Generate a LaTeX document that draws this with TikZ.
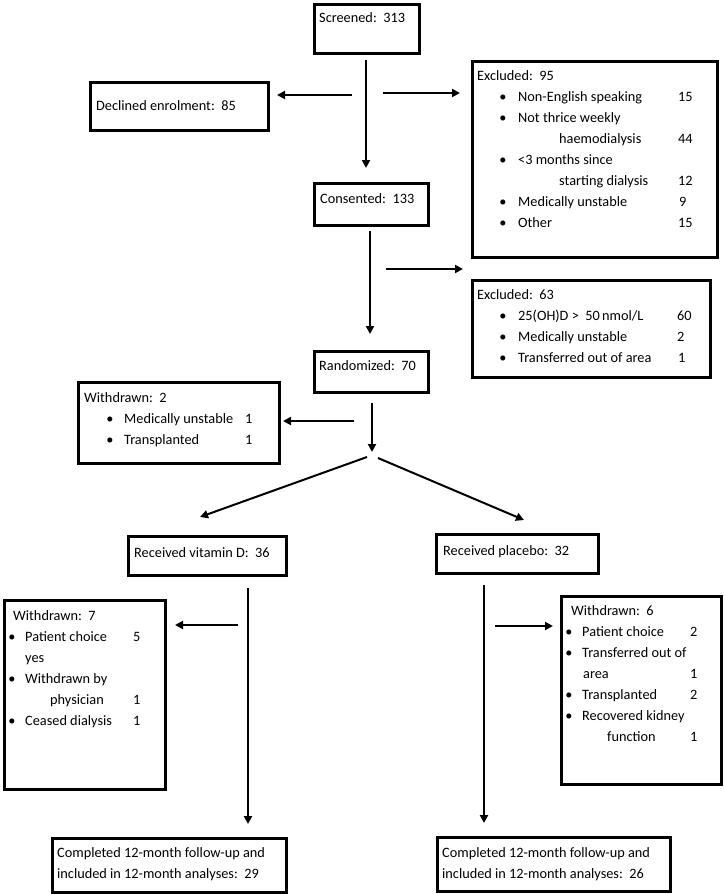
\documentclass[tikz,border=0pt]{standalone}
\usepackage{fontspec}
\setmainfont{Carlito}
\usetikzlibrary{arrows.meta}
\newcommand{\bx}[5]{\node[box, anchor=north west, minimum width=#4pt, minimum height=#5pt] (#1) at (#2,#3) {};}
\newcommand{\itemrow}[7]{%
  \node[bul] (#1b) at (#3,#2) {\textbullet};
  \node[txt] (#1t) at (#4,#2) {#5};
  \node[txt] (#1n) at (#6,#2) {#7};}
\begin{document}
\begin{tikzpicture}[x=1pt,y={(0pt,-1pt)},
  box/.style={draw=black, line width=2.6pt, inner sep=0pt, fill=none},
  txt/.style={inner sep=0pt, anchor=base west, font=\fontsize{14.3}{21}\selectfont},
  bul/.style={inner sep=0pt, anchor=base, font=\fontsize{14.3}{21}\selectfont},
  arr/.style={line width=2pt, -{Triangle[length=8pt,width=8pt]}},
  ln/.style={line width=2pt}]
\useasboundingbox (0,0) rectangle (724,894);
\fill[white] (0,0) rectangle (724,894);
% boxes
\bx{scr}{313}{3}{105}{49}
\bx{dec}{89}{81}{178}{48}
\bx{con}{313}{182}{114}{42}
\bx{exa}{471}{60}{245}{196}
\bx{exb}{471}{279}{238}{97}
\bx{ran}{313}{350}{114}{41}
\bx{wda}{77}{381}{201}{81}
\bx{vit}{127}{535}{158}{39}
\bx{pla}{435}{533}{162}{39}
\bx{wdb}{3}{599}{161}{189}
\bx{wdc}{560}{595}{160}{188}
\bx{cml}{51}{837}{234}{54}
\bx{cmr}{436}{836}{233}{54}
% texts
\node[txt] (tscr) at (319,23) {Screened:\ \ 313};
\node[txt] (tdec) at (96,110) {Declined enrolment:\ \ 85};
\node[txt] (tcon) at (320,203) {Consented:\ \ 133};
\node[txt] (texa) at (477,80) {Excluded:\ \ 95};
\itemrow{ea1}{101}{503}{518}{Non-English speaking}{678}{15}
\node[bul] (ea2b) at (503,122) {\textbullet};
\node[txt] (ea2t) at (518,122) {Not thrice weekly};
\node[txt] (ea2c) at (559,143) {haemodialysis};
\node[txt] (ea2n) at (678,143) {44};
\node[bul] (ea3b) at (503,164) {\textbullet};
\node[txt] (ea3t) at (518,164) {<3 months since};
\node[txt] (ea3c) at (559,185) {starting dialysis};
\node[txt] (ea3n) at (678,185) {12};
\itemrow{ea4}{206}{503}{518}{Medically unstable}{679}{9}
\itemrow{ea5}{227}{503}{518}{Other}{678}{15}
\node[txt] (texb) at (477,299) {Excluded:\ \ 63};
\itemrow{eb1}{320}{503}{518}{25(OH)D >\ \ 50\,nmol/L}{677}{60}
\itemrow{eb2}{341}{503}{518}{Medically unstable}{677}{2}
\itemrow{eb3}{362}{503}{518}{Transferred out of area}{678}{1}
\node[txt] (tran) at (319,370) {Randomized:\ \ 70};
\node[txt] (twda) at (84,402) {Withdrawn:\ \ 2};
\itemrow{wa1}{423}{110}{124}{Medically unstable}{245}{1}
\itemrow{wa2}{444}{110}{124}{Transplanted}{245}{1}
\node[txt] (tvit) at (134,557) {Received vitamin D:\ \ 36};
\node[txt] (tpla) at (443,555) {Received placebo:\ \ 32};
\node[txt] (twdb) at (13,620) {Withdrawn:\ \ 7};
\itemrow{wb1}{641}{12}{25}{Patient choice}{133}{5}
\node[txt] (wb1c) at (25,662) {yes};
\node[bul] (wb2b) at (12,683) {\textbullet};
\node[txt] (wb2t) at (25,683) {Withdrawn by};
\node[txt] (wb2c) at (50,704) {physician};
\node[txt] (wb2n) at (133,704) {1};
\itemrow{wb3}{725}{12}{25}{Ceased dialysis}{133}{1}
\node[txt] (twdc) at (571,615) {Withdrawn:\ \ 6};
\itemrow{wc1}{636}{569}{582}{Patient choice}{690}{2}
\node[bul] (wc2b) at (569,657) {\textbullet};
\node[txt] (wc2t) at (582,657) {Transferred out of};
\node[txt] (wc2c) at (583,678) {area};
\node[txt] (wc2n) at (690,678) {1};
\itemrow{wc3}{699}{569}{582}{Transplanted}{690}{2}
\node[bul] (wc4b) at (569,720) {\textbullet};
\node[txt] (wc4t) at (582,720) {Recovered kidney};
\node[txt] (wc4c) at (607,741) {function};
\node[txt] (wc4n) at (690,741) {1};
\node[txt] (tcl1) at (57,857) {Completed 12-month follow-up and};
\node[txt] (tcl2) at (57,878) {included in 12-month analyses:\ \ 29};
\node[txt] (tcr1) at (442,857) {Completed 12-month follow-up and};
\node[txt] (tcr2) at (442,878) {included in 12-month analyses:\ \ 26};
% arrow end points
\coordinate (a1s) at (366,60);  \coordinate (a1e) at (366,168);
\coordinate (a2s) at (352,95);  \coordinate (a2e) at (277,95);
\coordinate (a3s) at (383,93);  \coordinate (a3e) at (460,93);
\coordinate (a4s) at (370,231); \coordinate (a4e) at (370,334);
\coordinate (a5s) at (386,269); \coordinate (a5e) at (463,269);
\coordinate (a6s) at (372,403); \coordinate (a6e) at (372,452);
\coordinate (a7s) at (354,421); \coordinate (a7e) at (283,421);
\coordinate (a8s) at (367,457); \coordinate (a8e) at (200,517);
\coordinate (a9s) at (378,458); \coordinate (a9e) at (524,520);
\coordinate (b1s) at (248,588); \coordinate (b1e) at (248,824);
\coordinate (b2s) at (238,625); \coordinate (b2e) at (175,625);
\coordinate (b3s) at (484,585); \coordinate (b3e) at (484,823);
\coordinate (b4s) at (495,626); \coordinate (b4e) at (553,626);
\foreach \p in {a1,a2,a3,a4,a5,a6,a7,a8,a9,b1,b2,b3,b4}
  \draw[arr] (\p s) -- (\p e);
\end{tikzpicture}
\end{document}
